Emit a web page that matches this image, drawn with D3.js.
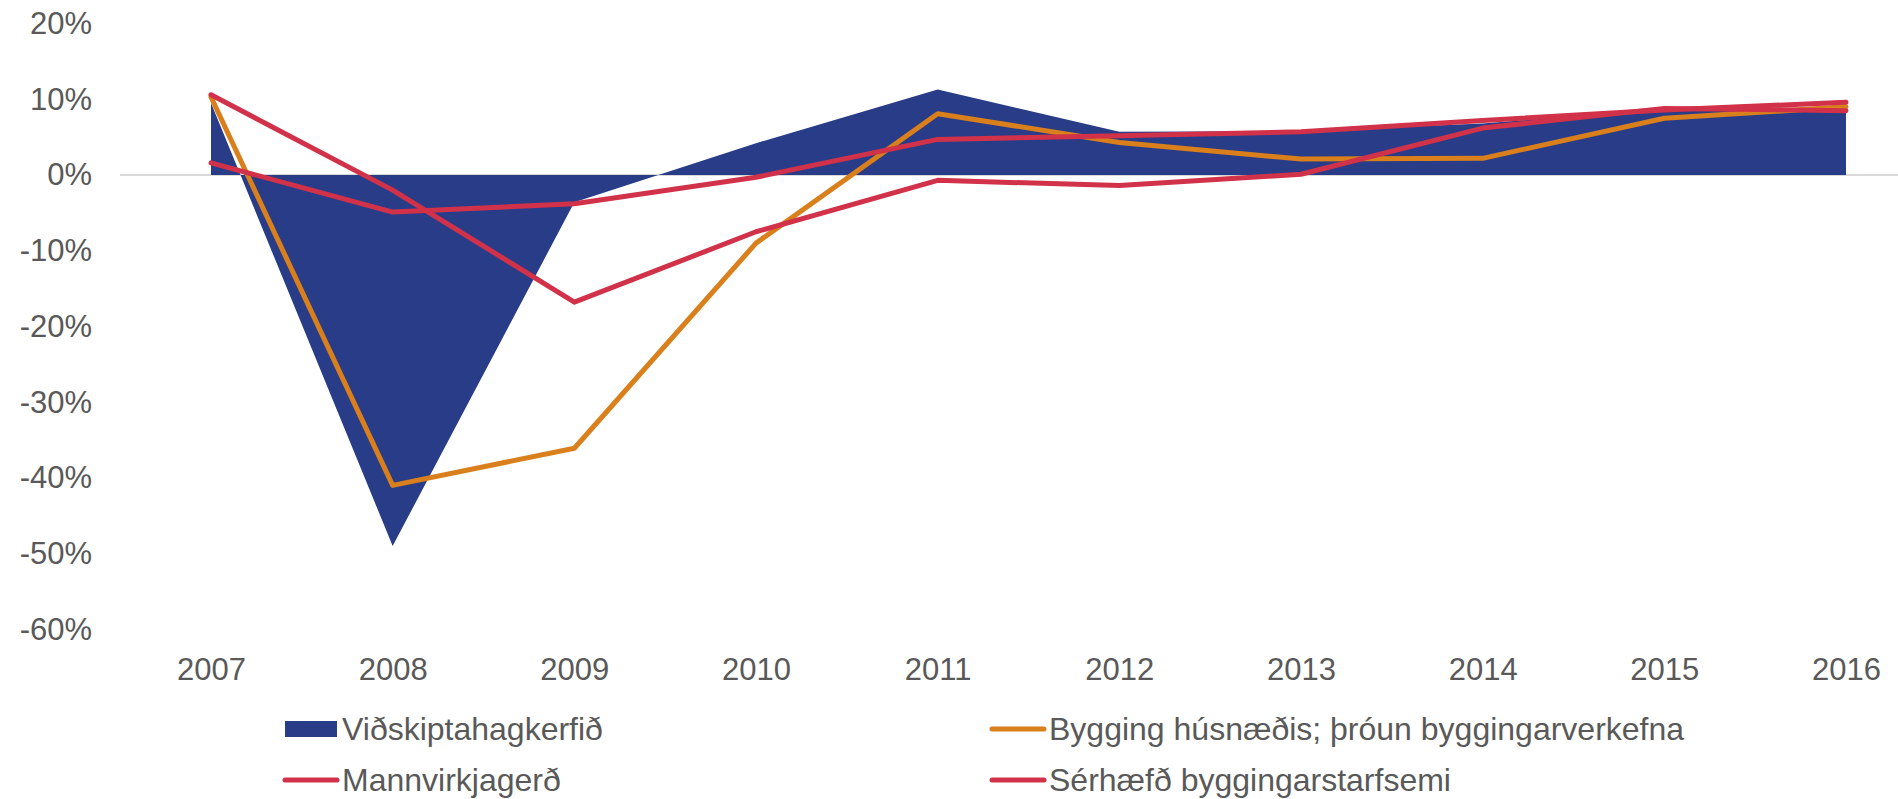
<!DOCTYPE html>
<html lang="is">
<head>
<meta charset="utf-8">
<title>Vöxtur</title>
<script src="https://cdn.jsdelivr.net/npm/d3@7"></script>
<style>
  body { margin: 0; background: #fff; }
  svg text { font-family: "Liberation Sans", Arial, sans-serif; fill: #595959; }
</style>
</head>
<body>
<script>
// data (% change year on year)
var years = ["2007","2008","2009","2010","2011","2012","2013","2014","2015","2016"];
var vidskipti = [9.5, -49.0, -3.6, 4.2, 11.3, 5.7, 5.8, 6.8, 8.7, 8.4];
var bygging   = [10.3, -41.0, -36.1, -9.0, 8.1, 4.3, 2.1, 2.2, 7.5, 9.0];
var mannvirki = [10.6, -2.0, -16.8, -7.5, -0.7, -1.4, 0.1, 6.2, 8.8, 8.5];
var serhaef   = [1.6, -4.9, -3.8, -0.3, 4.7, 5.2, 5.7, 7.2, 8.6, 9.6];
var yTicks = [-60, -50, -40, -30, -20, -10, 0, 10, 20];
var legendNames = ["Viðskiptahagkerfið", "Bygging húsnæðis; þróun byggingarverkefna", "Mannvirkjagerð", "Sérhæfð byggingarstarfsemi"];

var w = 1898, h = 799;
var navy = "#293c87", orange = "#d97f1b", red = "#d13249";

var svg = d3.select("body").append("svg")
    .attr("width", w).attr("height", h);

var x = d3.scalePoint().domain(years).range([211, 1846]);
var y = d3.scaleLinear().domain([-60, 20]).range([629.2, 23.6]);

// zero line
svg.append("line")
    .attr("x1", 120).attr("x2", w)
    .attr("y1", y(0)).attr("y2", y(0))
    .attr("stroke", "#d9d9d9").attr("stroke-width", 2);

// area series
var area = d3.area()
    .x(function(d, i) { return x(years[i]); })
    .y0(y(0))
    .y1(function(d) { return y(d); });

svg.append("path")
    .datum(vidskipti)
    .attr("d", area)
    .attr("fill", navy);

// line series
var line = d3.line()
    .x(function(d, i) { return x(years[i]); })
    .y(function(d) { return y(d); });

var lines = [[bygging, orange], [serhaef, red], [mannvirki, red]];
lines.forEach(function(s) {
  svg.append("path")
      .datum(s[0])
      .attr("d", line)
      .attr("fill", "none")
      .attr("stroke", s[1])
      .attr("stroke-width", 5)
      .attr("stroke-linejoin", "round")
      .attr("stroke-linecap", "round");
});

// y axis
var yAxis = svg.append("g")
    .attr("transform", "translate(92,0)")
    .call(d3.axisLeft(y).tickValues(yTicks).tickSize(0).tickPadding(0)
      .tickFormat(function(d) { return d + "%"; }));
yAxis.select(".domain").remove();
yAxis.selectAll("text")
    .attr("font-size", 31)
    .attr("font-family", null)
    .attr("fill", null);

// x axis
var xAxis = svg.append("g")
    .attr("transform", "translate(0,658)")
    .call(d3.axisBottom(x).tickSize(0).tickPadding(0));
xAxis.select(".domain").remove();
xAxis.selectAll("text")
    .attr("font-size", 31)
    .attr("font-family", null)
    .attr("fill", null);

// legend
var legendColors = [navy, orange, red, red];
var colX = [285, 992], rowY = [729, 780];
legendNames.forEach(function(name, i) {
  var lx = colX[i % 2], ly = rowY[Math.floor(i / 2)];
  var g = svg.append("g").attr("transform", "translate(" + lx + "," + ly + ")");
  if (i === 0) {
    g.append("rect").attr("x", 0).attr("y", -8).attr("width", 52).attr("height", 16)
        .attr("fill", legendColors[i]);
  } else {
    g.append("line").attr("x1", 0).attr("x2", 52).attr("y1", 0).attr("y2", 0)
        .attr("stroke", legendColors[i]).attr("stroke-width", 5)
        .attr("stroke-linecap", "round");
  }
  g.append("text")
      .attr("x", 57).attr("y", 0).attr("dy", "0.35em")
      .attr("font-size", 32)
      .text(name);
});
</script>
</body>
</html>
